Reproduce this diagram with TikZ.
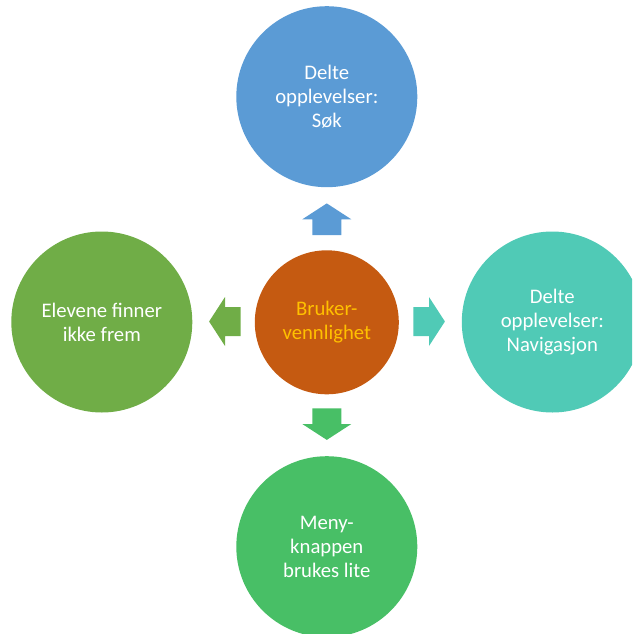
\documentclass[tikz,border=0pt]{standalone}
\usepackage{fontspec}
\setmainfont{Carlito}
\definecolor{cblue}{HTML}{5B9BD5}
\definecolor{corange}{HTML}{C55A11}
\definecolor{cgold}{HTML}{FFC000}
\definecolor{cteal}{HTML}{50CAB6}
\definecolor{cgreen}{HTML}{70AD47}
\definecolor{cgreenb}{HTML}{48BF66}
\begin{document}
\begin{tikzpicture}[x=1pt,y=1pt,
  bubble/.style={circle, inner sep=0pt, minimum size=181pt, align=center,
    text=white, font=\fontsize{20.7}{23.8}\selectfont},
  hub/.style={circle, inner sep=0pt, minimum size=144pt, align=center,
    fill=corange, text=cgold, font=\fontsize{20.7}{23.8}\selectfont},
  blockarrow/.pic={\fill[pic actions] (0,-14.5) -- (15.7,-14.5) -- (15.7,-24.5)
    -- (31.6,0) -- (15.7,24.5) -- (15.7,14.5) -- (0,14.5) -- cycle;}]
\useasboundingbox (0,0) rectangle (632,-634);
\clip (0,0) rectangle (632,-634);
% hub and surrounding bubbles
\node[hub] (hub) at (326.8,-322.3) {Bruker-\\vennlighet};
\node[bubble, fill=cblue] (top) at (326.8,-96.7) {Delte\\opplevelser:\\Søk};
\node[bubble, fill=cteal] (right) at (552.3,-322) {Delte\\opplevelser:\\Navigasjon};
\node[bubble, fill=cgreen] (left) at (101.8,-322) {Elevene finner\\ikke frem};
\node[bubble, fill=cgreenb] (bottom) at (326.8,-546.7) {Meny-\\knappen\\brukes lite};
% block arrows pointing outwards from the hub
\pic[fill=cblue] at (326.8,-235) [rotate=90] {blockarrow};
\pic[fill=cteal] at (413.3,-321.5) {blockarrow};
\pic[fill=cgreen] at (240.7,-321.5) [rotate=180] {blockarrow};
\pic[fill=cgreenb] at (326.8,-408.3) [rotate=-90] {blockarrow};
\end{tikzpicture}
\end{document}
